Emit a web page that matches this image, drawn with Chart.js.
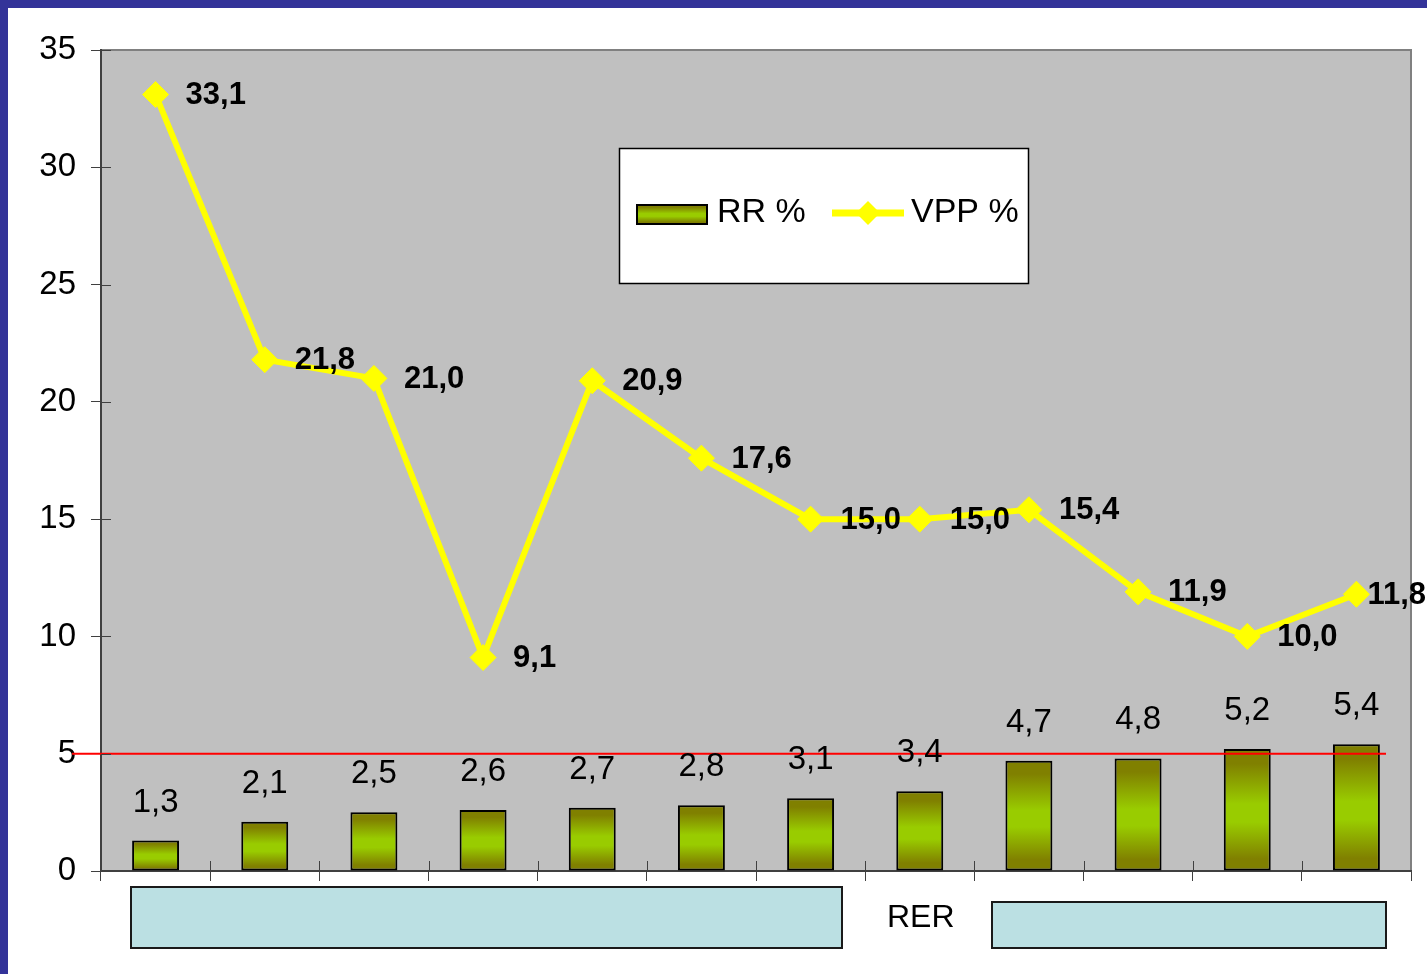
<!DOCTYPE html>
<html>
<head>
<meta charset="utf-8">
<script src="https://cdn.jsdelivr.net/npm/chart.js@4.4.1/dist/chart.umd.min.js"></script>
<style>
  html, body { margin: 0; padding: 0; background: #fff; }
  #wrap { position: relative; width: 1427px; height: 974px; overflow: hidden; font-family: "Liberation Sans", Arial, sans-serif; }
  #wrap canvas { position: absolute; left: 0; top: 0; }
  .frame { position: absolute; background: #333399; }
  .band { position: absolute; background: #BBE0E3; border: 2px solid #1a1a1a; box-sizing: border-box; }
  #rer { position: absolute; left: 887px; top: 898px; font-size: 32px; color: #000; }
</style>
</head>
<body>
<div id="wrap">
  <canvas id="chart"></canvas>
  <div class="frame" style="left:0;top:0;width:1427px;height:8px"></div>
  <div class="frame" style="left:0;top:0;width:8px;height:974px"></div>
  <div class="band" style="left:130px;top:886px;width:713px;height:63px"></div>
  <div id="rer">RER</div>
  <div class="band" style="left:991px;top:901px;width:396px;height:48px"></div>
</div>
<script>
// twelve groups along the x axis, no names printed
var categories = ['', '', '', '', '', '', '', '', '', '', '', ''];
var rrValues = [1.3, 2.1, 2.5, 2.6, 2.7, 2.8, 3.1, 3.4, 4.7, 4.8, 5.2, 5.4];
var vppValues = [33.1, 21.8, 21.0, 9.1, 20.9, 17.6, 15.0, 15.0, 15.4, 11.9, 10.0, 11.8];
var yTicks = [0, 5, 10, 15, 20, 25, 30, 35];
var threshold = 5;

var FONT = '"Liberation Sans", Arial, sans-serif';
var OLIVE = '#808000';
var LIME = '#99CC00';

function fmt(v) {
    return v.toFixed(1).replace('.', ',');
}

function barGradient(ctx, top, bottom) {
    var g = ctx.createLinearGradient(0, top, 0, bottom);
    g.addColorStop(0, OLIVE);
    g.addColorStop(0.12, OLIVE);
    g.addColorStop(0.45, LIME);
    g.addColorStop(0.6, LIME);
    g.addColorStop(0.9, OLIVE);
    g.addColorStop(1, OLIVE);
    return g;
}

// gray plot background with thin border
var plotBackground = {
    id: 'plotBackground',
    beforeDraw: function (chart) {
        var a = chart.chartArea, c = chart.ctx;
        c.save();
        c.fillStyle = '#C0C0C0';
        c.fillRect(a.left, a.top, a.right - a.left, a.bottom - a.top);
        c.strokeStyle = '#808080';
        c.lineWidth = 2;
        c.beginPath();
        c.moveTo(a.left, a.top);
        c.lineTo(a.right, a.top);
        c.lineTo(a.right, a.bottom);
        c.stroke();
        c.restore();
    },
    afterDraw: function (chart) {
        // tick marks also poke into the plot area
        var a = chart.chartArea, c = chart.ctx;
        var xs = chart.scales.x, ys = chart.scales.y;
        c.save();
        c.strokeStyle = '#404040';
        c.lineWidth = 1;
        c.beginPath();
        yTicks.forEach(function (t) {
            var y = Math.round(ys.getPixelForValue(t)) + 0.5;
            c.moveTo(a.left, y);
            c.lineTo(a.left + 10, y);
        });
        for (var i = 1; i < categories.length; i++) {
            var x = Math.round((xs.getPixelForValue(i - 1) + xs.getPixelForValue(i)) / 2) + 0.5;
            c.moveTo(x, a.bottom);
            c.lineTo(x, a.bottom - 10);
        }
        c.stroke();
        c.restore();
    }
};

// red reference line, value labels and the boxed legend
var overlay = {
    id: 'overlay',
    afterDatasetsDraw: function (chart) {
        var c = chart.ctx, a = chart.chartArea;
        var ys = chart.scales.y;

        var yRef = ys.getPixelForValue(threshold);
        c.save();
        c.strokeStyle = '#FF0000';
        c.lineWidth = 2;
        c.beginPath();
        c.moveTo(a.left - 29, yRef);
        c.lineTo(a.right - 25, yRef);
        c.stroke();

        c.fillStyle = '#000';
        c.textBaseline = 'middle';

        // bar values above each bar
        c.font = '33px ' + FONT;
        c.textAlign = 'center';
        chart.getDatasetMeta(0).data.forEach(function (bar, i) {
            c.fillText(fmt(rrValues[i]), bar.x, bar.y - 38);
        });

        // line values to the right of each marker
        c.font = 'bold 31px ' + FONT;
        c.textAlign = 'left';
        var pts = chart.getDatasetMeta(1).data;
        pts.forEach(function (p, i) {
            var dx = i === pts.length - 1 ? 11 : 30;
            c.fillText(fmt(vppValues[i]), p.x + dx, p.y + 1);
        });

        // legend box
        c.fillStyle = '#fff';
        c.fillRect(619, 148, 409, 135);
        c.strokeStyle = '#000';
        c.lineWidth = 1.5;
        c.strokeRect(619.5, 148.5, 409, 135);

        c.fillStyle = barGradient(c, 205, 224);
        c.fillRect(637, 205, 70, 19);
        c.lineWidth = 2;
        c.strokeRect(637, 205, 70, 19);

        c.strokeStyle = '#FFFF00';
        c.lineWidth = 7;
        c.beginPath();
        c.moveTo(832, 213);
        c.lineTo(904, 213);
        c.stroke();
        c.fillStyle = '#FFFF00';
        c.beginPath();
        c.moveTo(868, 201);
        c.lineTo(880, 213);
        c.lineTo(868, 225);
        c.lineTo(856, 213);
        c.closePath();
        c.fill();

        c.fillStyle = '#000';
        c.font = '34px ' + FONT;
        c.fillText('RR %', 717, 213);
        c.fillText('VPP %', 911, 213);
        c.restore();
    }
};

var ctx = document.getElementById('chart').getContext('2d');
var chart = new Chart(ctx, {
    data: {
        labels: categories,
        datasets: [{
            type: 'bar',
            label: 'RR %',
            data: rrValues,
            order: 2,
            backgroundColor: function (context) {
                var ch = context.chart;
                if (!ch.chartArea || context.dataIndex === undefined) return LIME;
                var ys = ch.scales.y;
                var top = ys.getPixelForValue(rrValues[context.dataIndex]);
                var bottom = ys.getPixelForValue(0);
                return barGradient(ch.ctx, top, bottom);
            },
            borderColor: '#000',
            borderWidth: 2,
            borderSkipped: false,
            barPercentage: 0.43,
            categoryPercentage: 1.0
        }, {
            type: 'line',
            label: 'VPP %',
            data: vppValues,
            order: 1,
            borderColor: '#FFFF00',
            borderWidth: 6,
            tension: 0,
            pointStyle: 'rectRot',
            pointRadius: 13,
            pointBackgroundColor: '#FFFF00',
            pointBorderColor: '#FFFF00',
            pointBorderWidth: 1
        }]
    },
    options: {
        responsive: true,
        maintainAspectRatio: false,
        animation: false,
        layout: {
            padding: { left: 0, top: 50, right: 16, bottom: 93 }
        },
        plugins: {
            legend: { display: false },
            tooltip: { enabled: false }
        },
        scales: {
            x: {
                type: 'category',
                offset: true,
                grid: {
                    offset: true,
                    drawOnChartArea: false,
                    tickLength: 10,
                    color: '#404040'
                },
                border: { color: '#404040', width: 2 },
                ticks: { display: false },
                afterFit: function (scale) { scale.height = 10; }
            },
            y: {
                min: 0,
                max: 35,
                afterBuildTicks: function (scale) {
                    scale.ticks = yTicks.map(function (v) { return { value: v }; });
                },
                grid: {
                    drawOnChartArea: false,
                    tickLength: 10,
                    color: '#404040'
                },
                border: { color: '#404040', width: 2 },
                ticks: {
                    color: '#000',
                    padding: 15,
                    font: { family: FONT, size: 33 }
                },
                afterFit: function (scale) { scale.width = 101; }
            }
        }
    },
    plugins: [plotBackground, overlay]
});
</script>
</body>
</html>
